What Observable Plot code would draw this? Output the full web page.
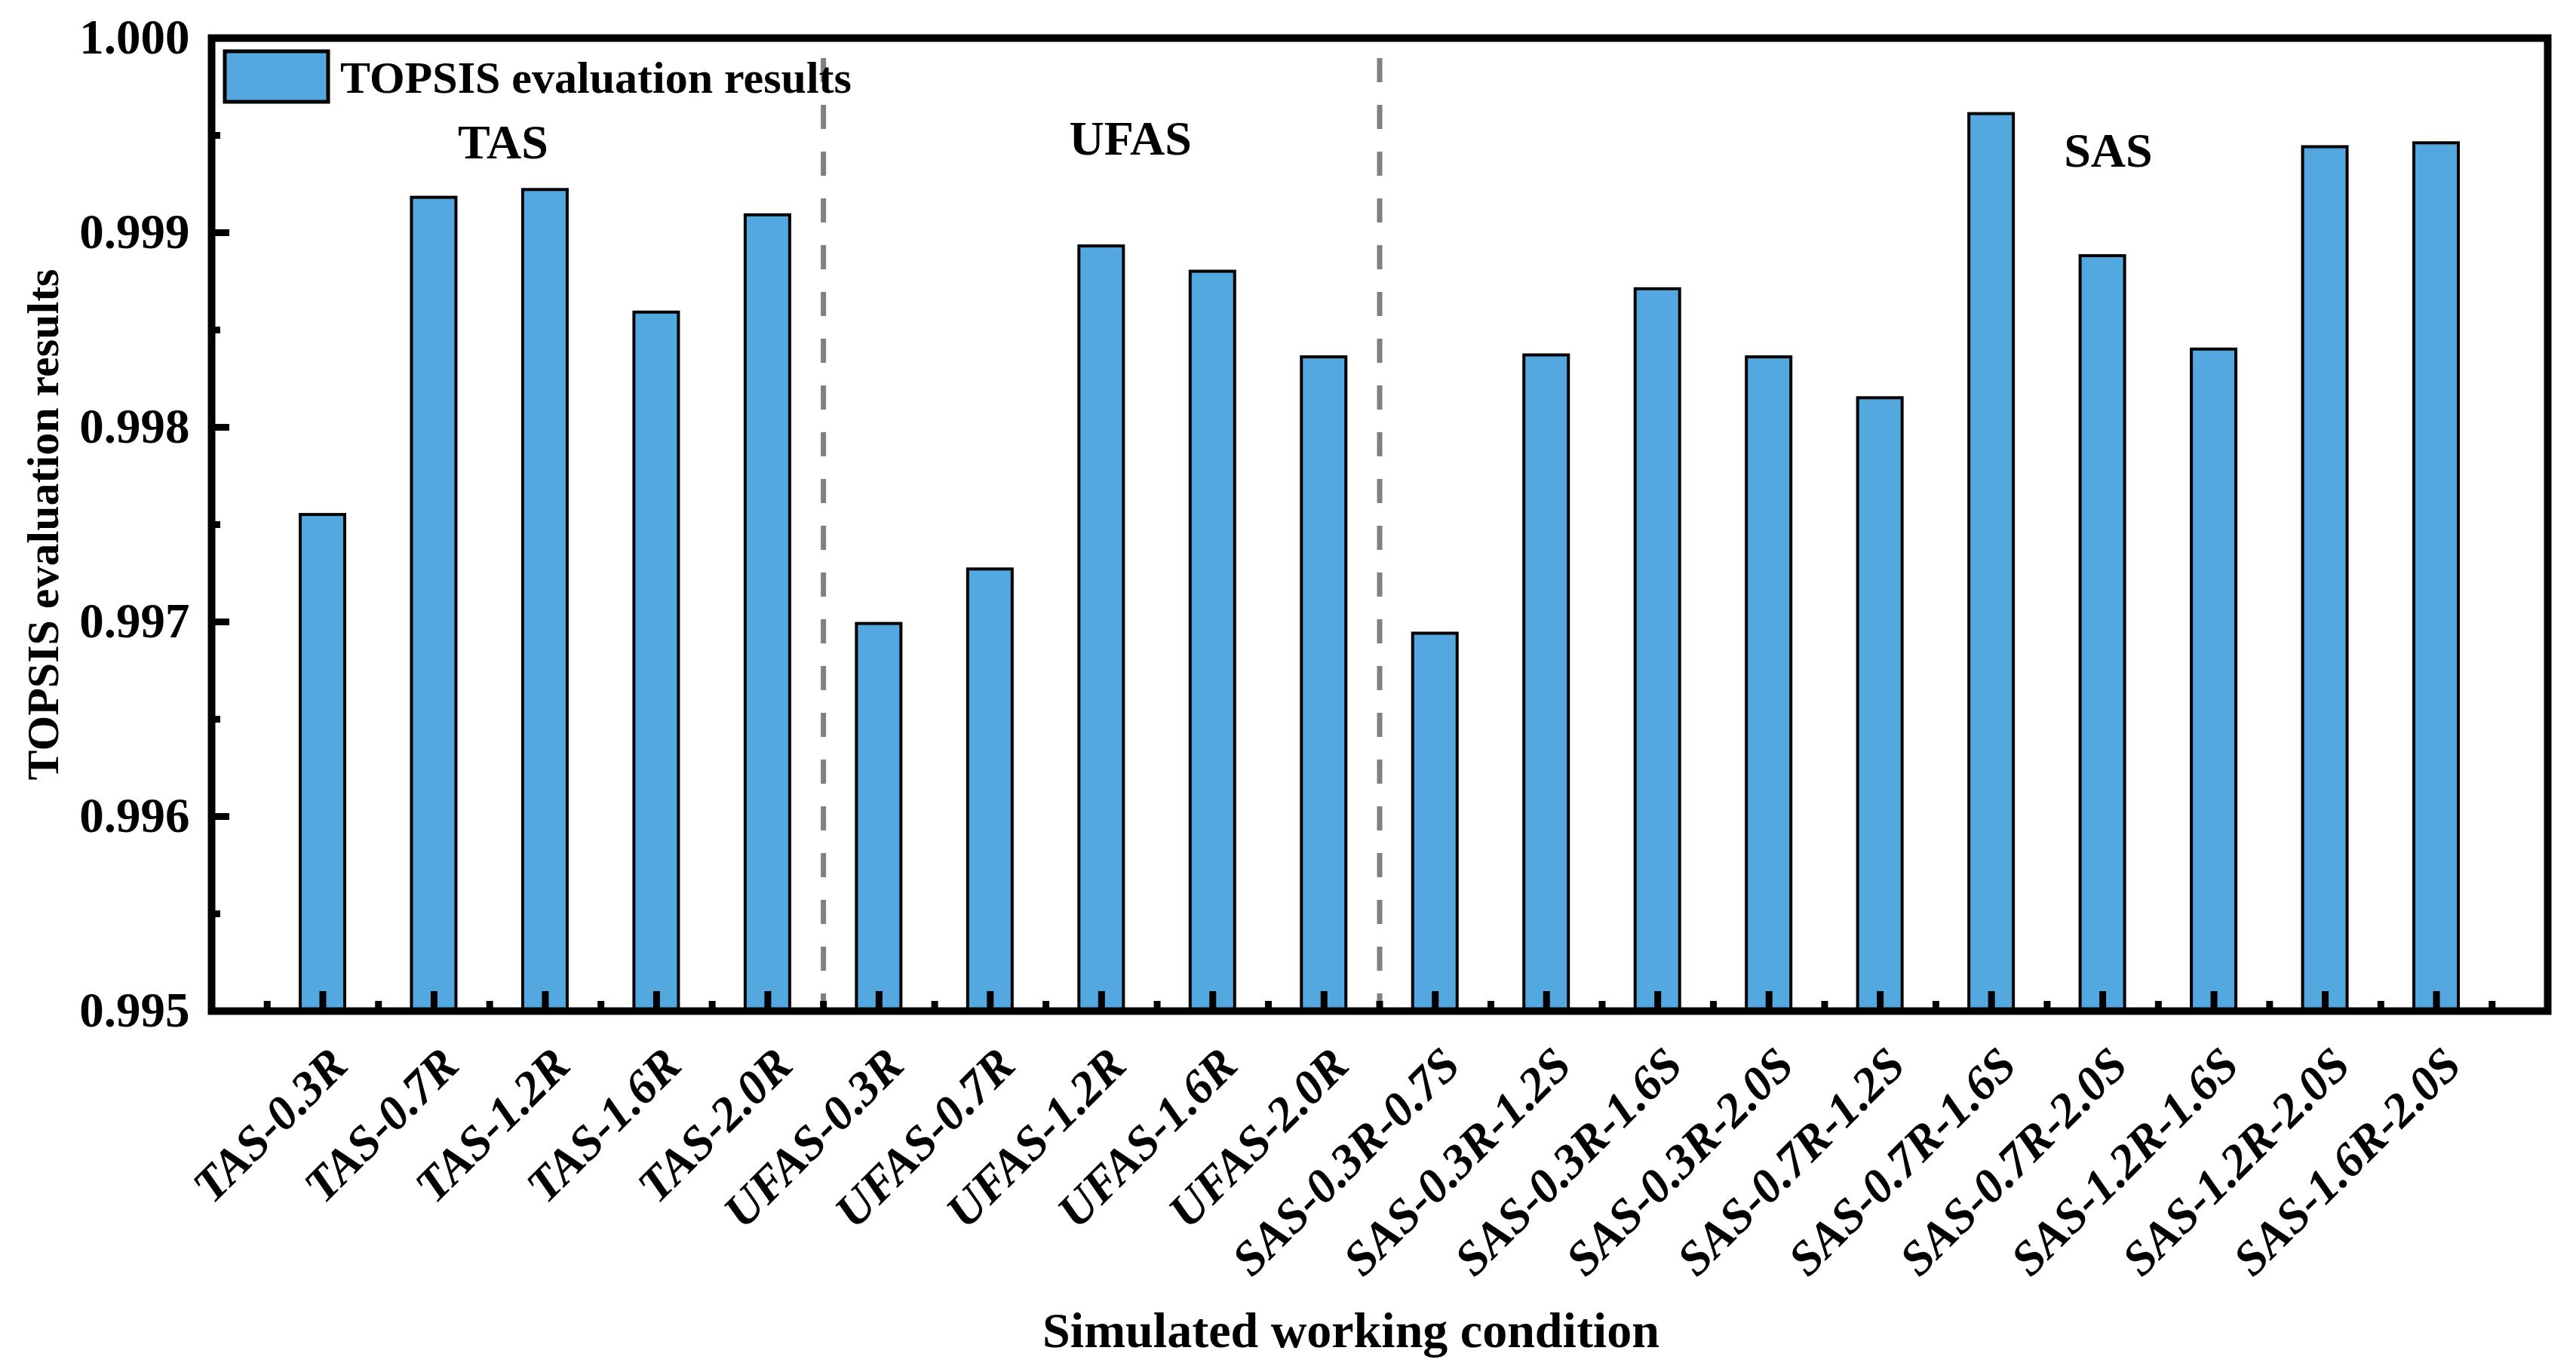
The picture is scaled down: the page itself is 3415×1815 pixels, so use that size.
<!DOCTYPE html>
<html>
<head>
<meta charset="utf-8">
<script src="https://cdn.jsdelivr.net/npm/d3@7"></script>
<script src="https://cdn.jsdelivr.net/npm/@observablehq/plot@0.6"></script>
<style>
html, body { margin: 0; padding: 0; background: #ffffff; }
#chart svg { display: block; }
</style>
</head>
<body>
<div id="chart"></div>
<script>
// ---- data ----
const conditions = [
  "TAS-0.3R", "TAS-0.7R", "TAS-1.2R", "TAS-1.6R", "TAS-2.0R",
  "UFAS-0.3R", "UFAS-0.7R", "UFAS-1.2R", "UFAS-1.6R", "UFAS-2.0R",
  "SAS-0.3R-0.7S", "SAS-0.3R-1.2S", "SAS-0.3R-1.6S", "SAS-0.3R-2.0S", "SAS-0.7R-1.2S",
  "SAS-0.7R-1.6S", "SAS-0.7R-2.0S", "SAS-1.2R-1.6S", "SAS-1.2R-2.0S", "SAS-1.6R-2.0S"
];
const groups = [
  "TAS", "TAS", "TAS", "TAS", "TAS",
  "UFAS", "UFAS", "UFAS", "UFAS", "UFAS",
  "SAS", "SAS", "SAS", "SAS", "SAS", "SAS", "SAS", "SAS", "SAS", "SAS"
];
const topsis = [
  0.99755, 0.99918, 0.99922, 0.99859, 0.99909,
  0.99699, 0.99727, 0.99893, 0.99880, 0.99836,
  0.99694, 0.99837, 0.99871, 0.99836, 0.99815,
  0.99961, 0.99888, 0.99840, 0.99944, 0.99946
];
const yTicks = [0.995, 0.996, 0.997, 0.998, 0.999, 1.000];
const yMinorTicks = [0.9955, 0.9965, 0.9975, 0.9985, 0.9995];
const yDomain = [0.995, 1.000];
const groupLabels = ["TAS", "UFAS", "SAS"];
const groupLabelX = [2.62, 8.26, 17.05];     // annotation anchors (category index units)
const groupLabelY = [0.99938, 0.99940, 0.99934]; // annotation anchors (value units)
const legendLabel = "TOPSIS evaluation results";
const xTitle = "Simulated working condition";
const yTitle = "TOPSIS evaluation results";

// ---- derived tables ----
const rows = conditions.map((c, k) => ({i: k + 1, name: c, group: groups[k], value: topsis[k]}));
const majorX = rows.map(d => d.i);
const minorX = [0, ...majorX].map(v => v + 0.5);
const separators = rows.slice(1).filter((d, k) => d.group !== rows[k].group).map(d => d.i - 0.5);
const annotations = groupLabels.map((g, k) => ({label: g, x: groupLabelX[k], y: groupLabelY[k]}));

// ---- styles ----
const FONT = '"Times New Roman", "Liberation Serif", "DejaVu Serif", serif';
const BAR = "#54A8E0";
const half = 0.2;
const TICKW = 9;

const legend = (index, scales, values, dimensions) => {
  const g = d3.create("svg:g");
  const x0 = dimensions.marginLeft + 18, y0 = dimensions.marginTop + 18;
  g.append("rect").attr("x", x0).attr("y", y0).attr("width", 137).attr("height", 67)
    .attr("fill", BAR).attr("stroke", "black").attr("stroke-width", 5);
  g.append("text").attr("x", x0 + 153).attr("y", y0 + 55)
    .attr("text-anchor", "start")
    .attr("font-family", FONT).attr("font-size", 60).attr("font-weight", "bold")
    .attr("fill", "black").text(legendLabel);
  return g.node();
};

const chart = Plot.plot({
  width: 3415,
  height: 1815,
  marginLeft: 280,
  marginRight: 38,
  marginTop: 50,
  marginBottom: 475,
  style: {fontFamily: FONT, background: "#ffffff", color: "black"},
  x: {domain: [0, conditions.length + 1], axis: null},
  y: {domain: yDomain, axis: null},
  marks: [
    Plot.rect(rows, {
      x1: d => d.i - half, x2: d => d.i + half,
      y1: yDomain[0], y2: "value",
      fill: BAR, stroke: "black", strokeWidth: 4
    }),
    Plot.ruleX(separators, {stroke: "#808080", strokeWidth: 7, strokeDasharray: "32,30", insetTop: 27}),
    Plot.axisY(yTicks, {
      tickSize: -24, tickPadding: 53, strokeWidth: TICKW,
      tickFormat: d3.format(".3f"), fontSize: 65, fontWeight: "bold", label: null
    }),
    Plot.axisY(yMinorTicks, {tickSize: -12, strokeWidth: TICKW, tickFormat: () => "", label: null}),
    Plot.axisX(majorX, {tickSize: -26, strokeWidth: TICKW, tickFormat: () => "", label: null}),
    Plot.axisX(minorX, {tickSize: -13, strokeWidth: TICKW, tickFormat: () => "", label: null}),
    Plot.axisX(majorX, {
      tickSize: 0, tickPadding: 75, tickFormat: i => conditions[i - 1],
      rotate: -45, textAnchor: "end", lineAnchor: "bottom", dx: 36,
      fontSize: 64, fontWeight: "bold", fontStyle: "italic", label: null
    }),
    Plot.frame({stroke: "black", strokeWidth: 10}),
    Plot.text(annotations, {
      x: "x", y: "y", text: "label", lineAnchor: "bottom", textAnchor: "middle",
      fontSize: 64, fontWeight: "bold", fill: "black"
    }),
    Plot.text([xTitle], {
      frameAnchor: "bottom", textAnchor: "middle", dx: -38, dy: 445, lineAnchor: "bottom",
      fontSize: 66, fontWeight: "bold", fill: "black"
    }),
    Plot.text([yTitle], {
      frameAnchor: "left", textAnchor: "middle", rotate: -90, dx: -223, lineAnchor: "middle",
      fontSize: 60, fontWeight: "bold", fill: "black"
    }),
    legend
  ]
});

document.getElementById("chart").append(chart);
</script>
</body>
</html>
